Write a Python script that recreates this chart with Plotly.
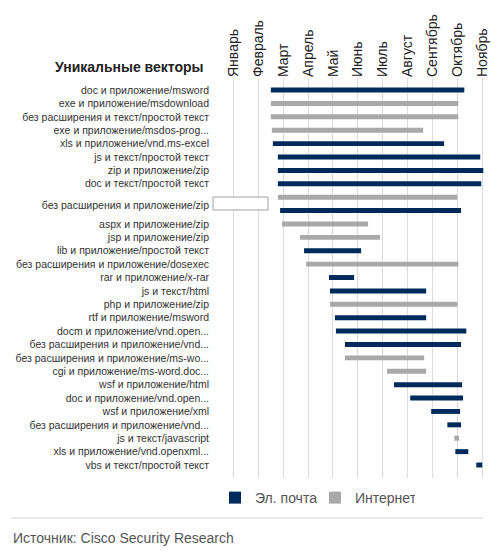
import plotly.graph_objects as go

months = ["Январь", "Февраль", "Март", "Апрель", "Май", "Июнь", "Июль",
          "Август", "Сентябрь", "Октябрь", "Ноябрь"]

vectors = [
    "doc и приложение/msword",
    "exe и приложение/msdownload",
    "без расширения и текст/простой текст",
    "exe и приложение/msdos-prog...",
    "xls и приложение/vnd.ms-excel",
    "js и текст/простой текст",
    "zip и приложение/zip",
    "doc и текст/простой текст",
    "без расширения и приложение/zip",
    "без расширения и приложение/zip",
    "aspx и приложение/zip",
    "jsp и приложение/zip",
    "lib и приложение/простой текст",
    "без расширения и приложение/dosexec",
    "rar и приложение/x-rar",
    "js и текст/html",
    "php и приложение/zip",
    "rtf и приложение/msword",
    "docm и приложение/vnd.open...",
    "без расширения и приложение/vnd...",
    "без расширения и приложение/ms-wo...",
    "cgi и приложение/ms-word.doc...",
    "wsf и приложение/html",
    "doc и приложение/vnd.open...",
    "wsf и приложение/xml",
    "без расширения и приложение/vnd...",
    "js и текст/javascript",
    "xls и приложение/vnd.openxml...",
    "vbs и текст/простой текст",
]

channel = ["email", "web", "web", "web", "email", "email", "email", "email",
           "web", "email", "web", "web", "email", "web", "email", "email",
           "web", "email", "email", "email", "web", "web", "email", "email",
           "email", "email", "web", "email", "email"]

start = [1.51, 1.51, 1.51, 1.55, 1.59, 1.79, 1.79, 1.79, 1.79, 1.88, 1.96,
         2.68, 2.84, 2.92, 3.84, 3.88, 3.88, 4.08, 4.12, 4.48, 4.48, 6.17,
         6.45, 7.10, 7.94, 8.59, 8.87, 8.91, 9.75]
end = [9.27, 9.03, 9.03, 7.62, 8.46, 9.91, 10.03, 9.95, 8.99, 9.14, 5.41,
       5.89, 5.13, 9.03, 4.85, 7.74, 8.99, 7.74, 9.35, 9.14, 7.66, 7.74,
       9.18, 9.22, 9.10, 9.14, 9.06, 9.43, 9.99]

series_names = {"email": "Эл. почта", "web": "Интернет"}
series_colors = {"email": "#002a5c", "web": "#a9a9a9"}

rows = list(range(len(vectors)))

fig = go.Figure()
for key in ["email", "web"]:
    idx = [i for i in rows if channel[i] == key]
    fig.add_trace(go.Bar(
        orientation="h",
        y=[rows[i] for i in idx],
        base=[start[i] for i in idx],
        x=[end[i] - start[i] for i in idx],
        name=series_names[key],
        marker=dict(color=series_colors[key], line=dict(width=0)),
        width=0.37,
        hoverinfo="skip",
    ))

# group consecutive identical labels into one tick
tickvals, ticktext = [], []
i = 0
while i < len(vectors):
    j = i
    while j + 1 < len(vectors) and vectors[j + 1] == vectors[i]:
        j += 1
    tickvals.append((i + j) / 2 + (0.1 if j > i else 0))
    ticktext.append(vectors[i])
    i = j + 1

L, R = 232, 485
T, B = 78, 478
W_plot = R - L
H_plot = B - T

def px_x(p):
    return (p - L) / W_plot

def px_y(p):
    return 1 - (p - T) / H_plot

fig.update_layout(
    width=501, height=557,
    margin=dict(l=L, r=501 - R, t=T, b=557 - B),
    paper_bgcolor="white", plot_bgcolor="white",
    barmode="overlay",
    font=dict(family="Liberation Sans, Arial, sans-serif", color="#222"),
    showlegend=True,
    legend=dict(orientation="h", x=px_x(215), xanchor="left",
                y=px_y(498), yanchor="middle",
                font=dict(size=14, color="#555"),
                entrywidth=55, entrywidthmode="pixels",
                itemclick=False, itemdoubleclick=False,
                bgcolor="rgba(0,0,0,0)", tracegroupgap=0),
    xaxis=dict(
        side="top", range=[-0.05, 10.1], automargin=False,
        tickvals=list(range(len(months))), ticktext=months,
        tickangle=-90, tickfont=dict(size=14, color="#222"),
        showgrid=True, gridcolor="#dcdcdc", gridwidth=1,
        zeroline=False, showline=False, ticks="",
    ),
    yaxis=dict(
        range=[28.97, -0.9], automargin=False,
        tickvals=tickvals, ticktext=ticktext,
        tickfont=dict(size=10.5, color="#333"),
        showgrid=False, zeroline=False, showline=False,
        ticks="", ticklabelstandoff=22,
    ),
    shapes=[
        dict(type="rect", xref="paper", yref="paper",
             x0=px_x(213), x1=px_x(268), y0=px_y(210), y1=px_y(197),
             fillcolor="white", line=dict(color="#a0a0a0", width=1),
             layer="above"),
        dict(type="line", xref="paper", yref="paper",
             x0=px_x(11), x1=px_x(483), y0=px_y(518), y1=px_y(518),
             line=dict(color="#cfd4da", width=1)),
    ],
    annotations=[
        dict(text="<b>Уникальные векторы</b>", xref="paper", yref="paper",
             x=px_x(206), y=px_y(67), xanchor="right", yanchor="middle",
             showarrow=False, font=dict(size=14, color="#222")),
        dict(text="Источник: Cisco Security Research", xref="paper", yref="paper",
             x=px_x(11), y=px_y(538), xanchor="left", yanchor="middle",
             showarrow=False, font=dict(size=14, color="#555")),
    ],
)

fig.write_html("out.html",
               config={"displayModeBar": False},
               post_script="document.body.style.margin='0';document.body.style.overflow='hidden';")
